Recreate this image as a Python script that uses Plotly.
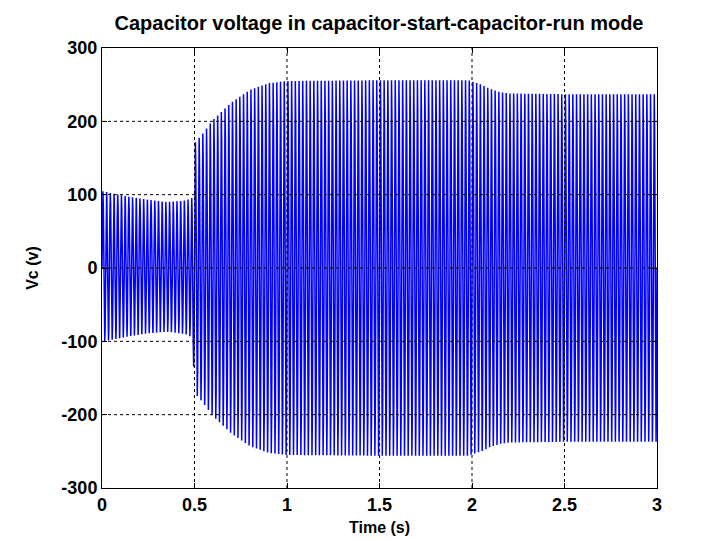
import numpy as np
import plotly.graph_objects as go

# ---- data ----
freq_hz = 50.0                      # supply frequency of the oscillation
t_end = 3.0
# envelope knots (time in s, positive peak in V, negative peak in V)
env_t   = [0.00, 0.05, 0.15, 0.25, 0.35, 0.45, 0.49, 0.50, 0.55, 0.60, 0.70, 0.80, 0.90, 1.00, 1.50, 1.98, 2.05, 2.10, 2.15, 2.20, 2.50, 3.00]
env_pos = [105, 102, 97, 93, 90, 92, 96, 170, 185, 202, 226, 243, 252, 255, 256, 256, 250, 244, 240, 238, 237, 237]
env_neg = [-100, -98, -93, -89, -87, -90, -95, -170, -185, -202, -226, -243, -252, -255, -256, -256, -250, -244, -240, -238, -237, -237]

x_ticks = [0, 0.5, 1, 1.5, 2, 2.5, 3]
y_ticks = [-300, -200, -100, 0, 100, 200, 300]

title_text = "Capacitor voltage in capacitor-start-capacitor-run mode"
x_title = "Time (s)"
y_title = "Vc (v)"

# ---- waveform ----
t = np.arange(0, t_end + 1e-9, 1e-4)
s = np.sin(2 * np.pi * freq_hz * t)
amp = np.where(s >= 0, np.interp(t, env_t, env_pos), -np.interp(t, env_t, env_neg))
v = amp * s

fig = go.Figure()
fig.add_trace(go.Scatter(x=t, y=v, mode="lines",
                         line=dict(color="#0000FF", width=1.5), hoverinfo="skip",
                         showlegend=False))

font_b = "Liberation Sans, Arial, sans-serif"

# grid lines drawn above the trace (MATLAB style)
shapes = []
for xv in x_ticks[1:-1]:
    shapes.append(dict(type="line", xref="x", yref="paper", x0=xv, x1=xv, y0=0, y1=1,
                       line=dict(color="black", width=1, dash="3px,3px"), layer="above"))
for yv in y_ticks[1:-1]:
    shapes.append(dict(type="line", xref="paper", yref="y", x0=0, x1=1, y0=yv, y1=yv,
                       line=dict(color="black", width=1, dash="3px,3px"), layer="above"))

W, H = 703, 532   # page body has an 8px margin
fig.update_layout(
    width=W, height=H,
    paper_bgcolor="white", plot_bgcolor="white",
    margin=dict(l=94, r=54, t=40, b=52),
    title=dict(text="<b>" + title_text + "</b>", x=371 / W, xanchor="center",
               y=1 - 15 / H, yanchor="middle",
               font=dict(family=font_b, size=20, color="black")),
    shapes=shapes,
    showlegend=False,
)
fig.update_xaxes(range=[0, 3], tickvals=x_ticks,
                 ticktext=["<b>%g</b>" % v_ for v_ in x_ticks],
                 ticks="inside", ticklen=5, tickcolor="black", mirror="ticks",
                 showline=True, linecolor="black", linewidth=1,
                 showgrid=False, zeroline=False, layer="above traces",
                 automargin=False,
                 tickfont=dict(family=font_b, size=18, color="black"),
                 title=dict(text="<b>" + x_title + "</b>", standoff=8,
                            font=dict(family=font_b, size=16, color="black")))
fig.update_yaxes(range=[-300, 300], tickvals=y_ticks,
                 ticktext=["<b>%d</b>" % v_ for v_ in y_ticks],
                 ticks="inside", ticklen=5, tickcolor="black", mirror="ticks",
                 showline=True, linecolor="black", linewidth=1,
                 showgrid=False, zeroline=False, layer="above traces",
                 automargin=False,
                 tickfont=dict(family=font_b, size=18, color="black"),
                 title=dict(text="<b>" + y_title + "</b>", standoff=18,
                            font=dict(family=font_b, size=16, color="black")))

fig.write_html("out.html")
